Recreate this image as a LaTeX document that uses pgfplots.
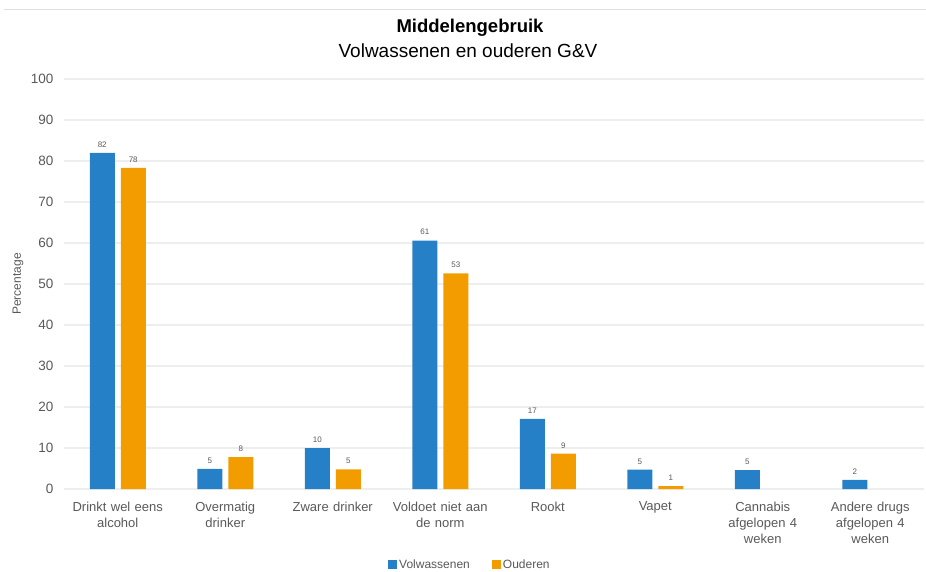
\documentclass[border=0pt]{standalone}
\usepackage{pgfplots}
\pgfplotsset{compat=1.18}
\usepackage{fontspec}
\setmainfont{Liberation Sans}

\definecolor{volw}{RGB}{38,128,199}
\definecolor{oud}{RGB}{243,156,0}
\definecolor{gridc}{RGB}{238,238,238}
\definecolor{txt}{RGB}{89,89,89}

\begin{document}
\begin{tikzpicture}
\path[use as bounding box] (0,0) rectangle (926pt,571pt);
\draw[gray!25, line width=1pt] (4pt,561pt) -- (926pt,561pt);
\node[font=\bfseries\fontsize{18.5}{22}\selectfont] at (470pt,543pt) {Middelengebruik};
\node[font=\fontsize{19}{22}\selectfont] at (468pt,520pt) {Volwassenen en ouderen G\&V};

\begin{axis}[
    at={(64pt,82pt)}, anchor=south west,
    scale only axis,
    width=860pt, height=410pt,
    ybar=6pt, bar width=25pt,
    ymin=0, ymax=100, ytick={0,10,...,100},
    xmin=-0.5, xmax=7.5,
    xtick={0,...,7},
    xticklabels={Drinkt wel eens\\alcohol, Overmatig\\drinker, Zware drinker,
        Voldoet niet aan\\de norm, Rookt, Vapet, Cannabis\\afgelopen 4\\weken,
        Andere drugs\\afgelopen 4\\weken},
    xticklabel style={align=center, text width=110pt, font=\fontsize{13}{16}\selectfont, color=txt, yshift=-5pt},
    yticklabel style={font=\fontsize{13.5}{16}\selectfont, color=txt, xshift=-7pt},
    /pgf/number format/assume math mode=true,
    ylabel={Percentage},
    every axis y label/.style={at={(rel axis cs:0,0.5)}, xshift=-46pt, rotate=90, anchor=center, font=\fontsize{12}{14}\selectfont, color=txt},
    ymajorgrids, major grid style={color=gridc, line width=1.5pt},
    axis line style={draw=none}, tick style={draw=none},
    nodes near coords={\pgfmathprintnumber[fixed,precision=0]{\pgfplotspointmeta}},
    every node near coord/.append style={font=\fontsize{8}{9}\selectfont, color=txt, yshift=2pt},
    legend style={at={(0.472,-0.185)}, anchor=center, legend columns=2, draw=none,
        font=\fontsize{12}{14}\selectfont, text=txt,
        /tikz/every even column/.append style={column sep=20pt}},
    legend image code/.code={\fill[#1] (0pt,-4pt) rectangle (9pt,5pt);},
]
\addplot[fill=volw, draw=none] coordinates {
    (0,82) (1,4.9) (2,10) (3,60.6) (4,17.1) (5,4.7) (6,4.6) (7,2.2)
};
\addplot[fill=oud, draw=none] coordinates {
    (0,78.3) (1,7.8) (2,4.8) (3,52.6) (4,8.6) (5,0.7)
};
\legend{Volwassenen, Ouderen}
\end{axis}
\end{tikzpicture}
\end{document}
